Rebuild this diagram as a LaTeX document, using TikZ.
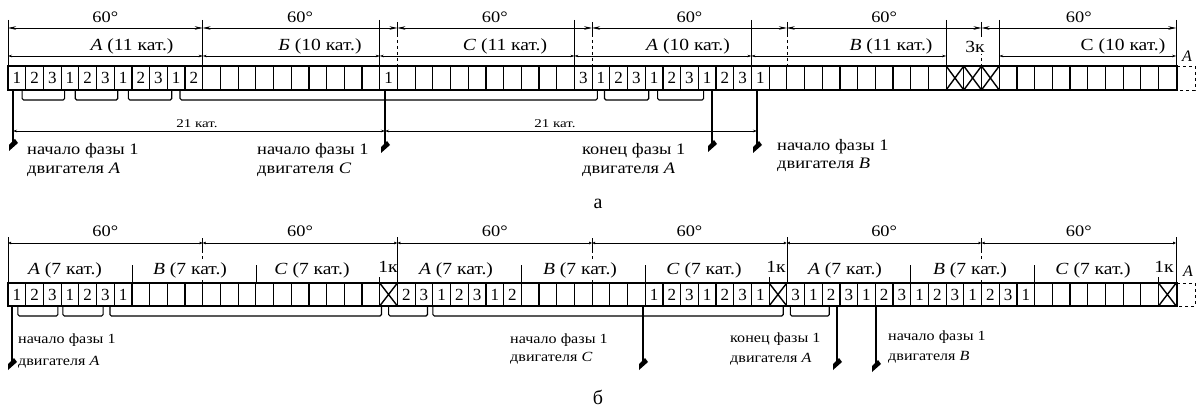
\documentclass[tikz,border=0pt]{standalone}
\usepackage{fontspec}
\setmainfont{Liberation Serif}
\usetikzlibrary{arrows.meta}
\newcommand\cx[1]{(8+17.7*(#1))}
\newcommand\hs[1]{\scalebox{1.15}[1]{#1}}
\begin{document}
\begin{tikzpicture}[x=1pt,y=-1pt,
  cellnum/.style={font=\fontsize{17}{17}\selectfont, inner sep=0pt},
  deg/.style={font=\fontsize{16}{16}\selectfont, inner sep=0pt},
  lbl/.style={font=\fontsize{17}{17}\selectfont, inner sep=0pt},
  note/.style={font=\fontsize{16}{16}\selectfont, inner sep=0pt, anchor=west},
  notes/.style={font=\fontsize{14}{14}\selectfont, inner sep=0pt, anchor=west},
  tiny/.style={font=\fontsize{12}{12}\selectfont, inner sep=0pt},
  thinl/.style={line width=0.6pt},
  celll/.style={line width=1.2pt},
  dimA/.style={line width=0.6pt, {Stealth[length=8pt,width=3.5pt]}-{Stealth[length=8pt,width=3.5pt]}},
  dimB/.style={line width=0.5pt, {Stealth[length=4pt,width=2.5pt]}-{Stealth[length=4pt,width=2.5pt]}},
  dimC/.style={line width=0.6pt, {Latex[length=3pt,width=3pt]}-{Latex[length=3pt,width=3pt]}},
  brk/.style={line width=1.1pt, rounded corners=1.5pt},
  lead/.style={line width=1.2pt},
  blob/.pic={\fill (2,-6) -- (5,-2) -- (-4,6) -- (-4,0) -- cycle;}
]
\useasboundingbox (0,0) rectangle (1198,414);

% ================= (a) =================
\draw[celll] (8,66) rectangle (1177,90);
\foreach \i in {1,...,65} \draw[celll] ({\cx{\i}},66) -- ({\cx{\i}},90);
\foreach \i/\n in {0/1,1/2,2/3,3/1,4/2,5/3,6/1,7/2,8/3,9/1,10/2,21/1,32/3,33/1,34/2,35/3,36/1,37/2,38/3,39/1,40/2,41/3,42/1}
  \node[cellnum] (na\i) at ({\cx{\i+0.5}},78) {\n};
\foreach \i in {53,54,55}
  \draw[line width=1.4pt] ({\cx{\i}},66) -- ({\cx{\i+1}},90) ({\cx{\i}},90) -- ({\cx{\i+1}},66);
\draw[thinl, dashed] (1177,66) -- (1195,66) -- (1195,90) -- (1177,90);
\node[font=\fontsize{16}{16}\selectfont\itshape, inner sep=0pt] (ra) at (1187,56) {А};

\foreach \i in {0,11,21,32,42,53,56,66} \draw[thinl] ({\cx{\i}},20) -- ({\cx{\i}},66);
\foreach \i in {22,33,44,55} {
  \draw[thinl] ({\cx{\i}},22) -- ({\cx{\i}},34);
  \draw[thinl, dashed] ({\cx{\i}},34) -- ({\cx{\i}},66);}

\foreach \a/\b in {0/11,11/22,22/33,33/44,44/55,55/66} {
  \draw[dimA] ({\cx{\a}},28) -- ({\cx{\b}},28);
  \node[deg] at ({\cx{(\a+\b)/2}},17) {\hs{60°}};}

\foreach \a/\b in {0/11,11/21,21/32,32/42,42/53,56/66}
  \draw[dimB] ({\cx{\a}},56) -- ({\cx{\b}},56);
\node[lbl] (pa1) at (132,46) {\hs{\textit{А} (11 кат.)}};
\node[lbl] (pa2) at (320,46) {\hs{\textit{Б} (10 кат.)}};
\node[lbl] (pa3) at (505,46) {\hs{\textit{С} (11 кат.)}};
\node[lbl] (pa4) at (688,46) {\hs{\textit{А} (10 кат.)}};
\node[lbl] (pa5) at (891,46) {\hs{\textit{В} (11 кат.)}};
\node[lbl, fill=white, inner sep=1pt] (pa6) at (975,47) {\hs{3к}};
\node[lbl] (pa7) at (1123,46) {\hs{С (10 кат.)}};

\foreach \a/\b in {0.8/3.2, 3.8/6.2, 6.8/9.25, 9.72/33.3, 33.7/36.2, 36.7/39.3}
  \draw[brk] ({\cx{\a}},90) -- ({\cx{\a}},100) -- ({\cx{\b}},100) -- ({\cx{\b}},90);

\coordinate (a1s) at (13,90);  \coordinate (a1e) at (13,145);
\coordinate (a2s) at (385,90); \coordinate (a2e) at (385,147);
\coordinate (a3s) at (712,90); \coordinate (a3e) at (712,146);
\coordinate (a4s) at (757,90); \coordinate (a4e) at (757,147);
\foreach \k in {1,2,3,4} {\draw[lead] (a\k s) -- (a\k e); \pic at (a\k e) {blob};}

\draw[dimB] (13,131) -- (385,131);
\draw[dimB] (385,131) -- (757,131);
\node[tiny] (k1) at (197,124) {\scalebox{1.25}[1]{21 кат.}};
\node[tiny] (k2) at (555,124) {\scalebox{1.25}[1]{21 кат.}};

\node[note] (t1a) at (27,151) {\hs{начало фазы 1}};
\node[note] (t1b) at (27,170) {\hs{двигателя \textit{А}}};
\node[note] (t2a) at (257,151) {\hs{начало фазы 1}};
\node[note] (t2b) at (257,170) {\hs{двигателя \textit{С}}};
\node[note] (t3a) at (582,151) {\hs{конец фазы 1}};
\node[note] (t3b) at (582,170) {\hs{двигателя \textit{А}}};
\node[note] (t4a) at (777,147) {\hs{начало фазы 1}};
\node[note] (t4b) at (777,165) {\hs{двигателя \textit{В}}};

\node[font=\fontsize{20}{20}\selectfont, inner sep=0pt] (capa) at (598,204) {а};

% ================= (b) =================
\draw[celll] (8,283) rectangle (1177,306);
\foreach \i in {1,...,65} \draw[celll] ({\cx{\i}},283) -- ({\cx{\i}},306);
\foreach \i/\n in {0/1,1/2,2/3,3/1,4/2,5/3,6/1,
  22/2,23/3,24/1,25/2,26/3,27/1,28/2,
  36/1,37/2,38/3,39/1,40/2,41/3,42/1,
  44/3,45/1,46/2,47/3,48/1,49/2,50/3,
  51/1,52/2,53/3,54/1,55/2,56/3,57/1}
  \node[cellnum] (nb\i) at ({\cx{\i+0.5}},295) {\n};
\foreach \i in {21,43,65}
  \draw[line width=1.4pt] ({\cx{\i}},283) -- ({\cx{\i+1}},306) ({\cx{\i}},306) -- ({\cx{\i+1}},283);
\draw[thinl, dashed] (1177,283) -- (1195,283) -- (1195,306) -- (1177,306);
\node[font=\fontsize{16}{16}\selectfont\itshape, inner sep=0pt] (rb) at (1188,271) {А};

\foreach \i in {0,22,44,66} \draw[thinl] ({\cx{\i}},237) -- ({\cx{\i}},283);
\foreach \i in {11,33,55} {
  \draw[thinl] ({\cx{\i}},238) -- ({\cx{\i}},250);
  \draw[thinl, dashed] ({\cx{\i}},250) -- ({\cx{\i}},283);}
\foreach \i in {7,14,29,36,51,58} \draw[thinl] ({\cx{\i}},265) -- ({\cx{\i}},283);
\foreach \i in {21,43,65} \draw[thinl] ({\cx{\i}},277) -- ({\cx{\i}},283);

\foreach \a/\b in {0/11,11/22,22/33,33/44,44/55,55/66} {
  \draw[dimC] ({\cx{\a}},243) -- ({\cx{\b}},243);
  \node[deg] at ({\cx{(\a+\b)/2}},231) {\hs{60°}};}

\foreach \x in {65,456,845} \node[lbl, fill=white, inner sep=1pt] at (\x,270) {\hs{\textit{А} (7 кат.)}};
\foreach \x in {190,580,970} \node[lbl, fill=white, inner sep=1pt] at (\x,270) {\hs{\textit{В} (7 кат.)}};
\foreach \x in {312,704,1093} \node[lbl, fill=white, inner sep=1pt] at (\x,270) {\hs{\textit{С} (7 кат.)}};
\foreach \x in {388,776,1164} \node[lbl] at (\x,267) {\hs{1к}};

\foreach \a/\b in {0.56/2.82, 3.1/5.37, 5.76/21.1, 21.5/23.7, 24.0/43.8, 44.2/46.4}
  \draw[brk] ({\cx{\a}},306) -- ({\cx{\a}},316) -- ({\cx{\b}},316) -- ({\cx{\b}},306);

\coordinate (b1s) at (12,306);  \coordinate (b1e) at (12,364);
\coordinate (b2s) at (643,306); \coordinate (b2e) at (643,364);
\coordinate (b3s) at (837,306); \coordinate (b3e) at (837,364);
\coordinate (b4s) at (876,306); \coordinate (b4e) at (876,366);
\foreach \k in {1,2,3,4} {\draw[lead] (b\k s) -- (b\k e); \pic at (b\k e) {blob};}

\node[notes] (s1a) at (18,340) {\hs{начало фазы 1}};
\node[notes] (s1b) at (18,362) {\hs{двигателя \textit{А}}};
\node[notes] (s2a) at (510,340) {\hs{начало фазы 1}};
\node[notes] (s2b) at (510,358) {\hs{двигателя \textit{С}}};
\node[notes] (s3a) at (730,339) {\hs{конец фазы 1}};
\node[notes] (s3b) at (730,359) {\hs{двигателя \textit{А}}};
\node[notes] (s4a) at (888,337) {\hs{начало фазы 1}};
\node[notes] (s4b) at (888,357) {\hs{двигателя \textit{В}}};

\node[font=\fontsize{20}{20}\selectfont, inner sep=0pt] (capb) at (598,397) {б};
\end{tikzpicture}
\end{document}
